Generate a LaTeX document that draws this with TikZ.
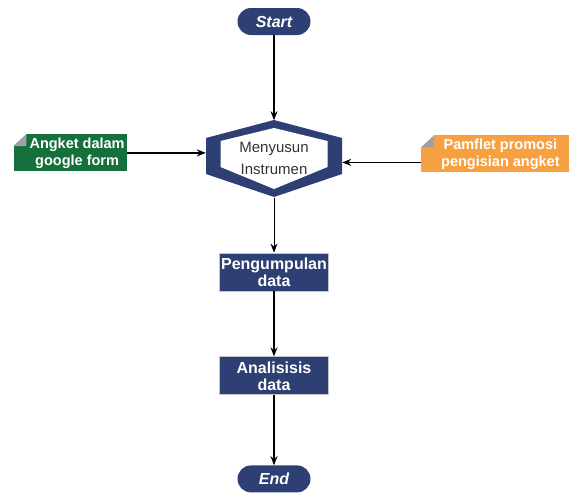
\documentclass[tikz,border=0pt]{standalone}
\usepackage{fontspec}
\setmainfont{Liberation Sans}
\usetikzlibrary{arrows.meta, positioning}
\definecolor{navy}{RGB}{46,64,115}
\definecolor{formgreen}{RGB}{22,112,60}
\definecolor{promoorange}{RGB}{247,160,66}
\definecolor{flapgray}{RGB}{160,160,166}
\begin{document}
\begin{tikzpicture}[x=1pt,y=-1pt,>={Stealth[length=9pt,width=7pt]},
  flow/.style={->,line width=1.8pt},
  term node/.style={rectangle,rounded corners=13.5pt,fill=navy,text=white,
    minimum width=73pt,minimum height=27pt,inner sep=0pt,
    font=\bfseries\itshape\fontsize{16}{18}\selectfont},
  proc node/.style={rectangle,fill=navy,draw=gray!45,line width=0.8pt,text=white,
    minimum width=109pt,minimum height=38pt,inner sep=0pt,align=center,
    font=\bfseries\fontsize{16}{17}\selectfont},
  flag node/.style={rectangle,minimum height=37pt,inner sep=0pt},
  flag text/.style={text=white,align=center,font=\bfseries\fontsize{14.5}{17}\selectfont}]
  \useasboundingbox (0,0) rectangle (574,493);
  % hexagon frame
  \begin{scope}[shift={(274,158.5)}]
    \fill[navy] (0,-38.5) -- (68,-20.5) -- (68,15.5) -- (0,38.5) -- (-68,15.5) -- (-68,-20.5) -- cycle;
    \fill[white] (0,-30.5) -- (53.5,-17.5) -- (53.5,8.5) -- (0,30.5) -- (-53.5,8.5) -- (-53.5,-17.5) -- cycle;
  \end{scope}
  \node[term node] (start) at (274,21.5) {Start};
  \node[minimum width=136pt,minimum height=77pt,inner sep=0pt,align=center,
    text=black!80,font=\fontsize{15}{22}\selectfont]
    (instr) [below=85pt of start] {Menyusun\\Instrumen};
  \node[proc node] (collect) [below=55pt of instr] {Pengumpulan\\data};
  \node[proc node] (analysis) [below=65pt of collect] {Analisisis\\data};
  \node[term node] (end) [below=70pt of analysis] {End};
  \node[flag node,fill=formgreen,minimum width=113pt,left=79pt of instr,yshift=6pt,
    label={[flag text,xshift=7pt]center:Angket dalam\\google form}] (form) {};
  \node[flag node,fill=promoorange,minimum width=148pt,right=79pt of instr,yshift=5pt,
    label={[flag text,xshift=5pt]center:Pamflet promosi\\pengisian angket}] (promo) {};
  % folded corners
  \foreach \f in {form,promo} {
    \fill[white] (\f.north west) -- ++(13,0) -- ++(-13,12) -- cycle;
    \fill[flapgray] ([xshift=13pt]\f.north west) -- ++(0,12) -- ++(-13,0) -- cycle;
  }
  \draw[flow] (start) -- (instr);
  \draw[flow] (form) -- (form -| instr.west);
  \draw[flow] ([yshift=-8.5pt]promo.west) -- ([yshift=-8.5pt]promo.west -| instr.east);
  \draw[->,line width=1pt] (instr) -- (collect);
  \draw[flow] (collect) -- (analysis);
  \draw[flow] (analysis) -- (end);
\end{tikzpicture}
\end{document}
